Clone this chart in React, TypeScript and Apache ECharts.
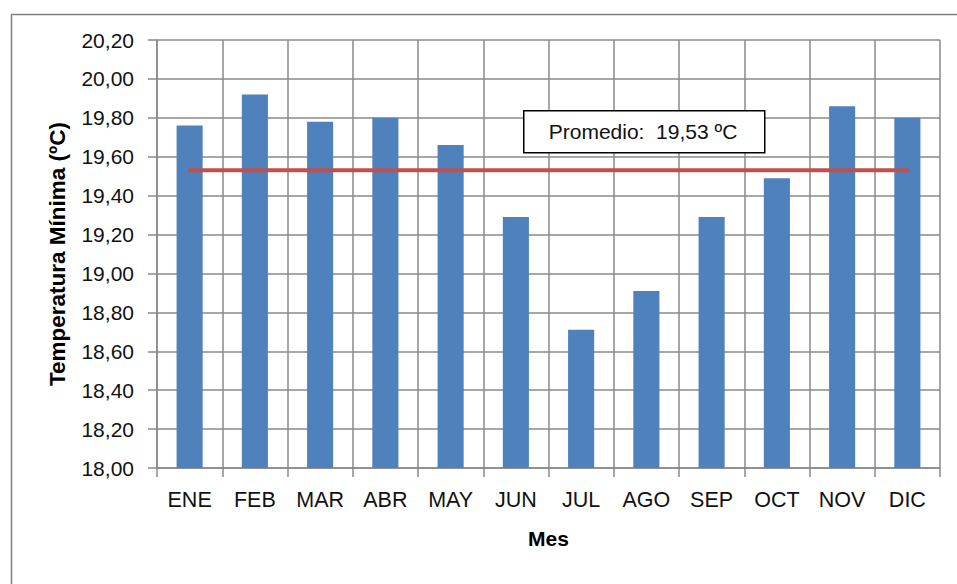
import React, { useEffect, useRef } from "react";
import * as echarts from "echarts";

const months = ["ENE", "FEB", "MAR", "ABR", "MAY", "JUN", "JUL", "AGO", "SEP", "OCT", "NOV", "DIC"];
const tempMin = [19.76, 19.92, 19.78, 19.8, 19.66, 19.29, 18.71, 18.91, 19.29, 19.49, 19.86, 19.8];
const promedio = 19.53;
const yMin = 18.0;
const yMax = 20.2;
const yStep = 0.2;
const yTitle = "Temperatura Mínima (ºC)";
const xTitle = "Mes";
const avgLabel = "Promedio:  19,53 ºC";

const FONT = "'Liberation Sans', Arial, sans-serif";
const GRID = "#8a8a8a";

export default function App() {
  const ref = useRef<HTMLDivElement>(null);
  useEffect(() => {
    if (!ref.current) return;
    const chart = echarts.init(ref.current, null, { renderer: "svg" });
    chart.setOption({
      animation: false,
      backgroundColor: "#ffffff",
      grid: { left: 157, top: 40, right: 17, bottom: 116, containLabel: false },
      xAxis: {
        type: "category",
        data: months,
        boundaryGap: true,
        name: xTitle,
        nameLocation: "middle",
        nameGap: 60,
        nameTextStyle: { fontFamily: FONT, fontSize: 21, fontWeight: "bold", color: "#000" },
        axisLine: { show: true, lineStyle: { color: GRID, width: 1.5 } },
        axisTick: { show: true, length: 9, lineStyle: { color: GRID, width: 1.5 } },
        axisLabel: { fontFamily: FONT, fontSize: 21.5, color: "#111", margin: 21 },
        splitLine: { show: true, lineStyle: { color: GRID, width: 1.5 } },
      },
      yAxis: {
        type: "value",
        min: yMin,
        max: yMax,
        interval: yStep,
        name: yTitle,
        nameLocation: "middle",
        nameGap: 88,
        nameRotate: 90,
        nameTextStyle: { fontFamily: FONT, fontSize: 22.5, fontWeight: "bold", color: "#000" },
        axisLine: { show: true, lineStyle: { color: GRID, width: 1.5 } },
        axisTick: { show: true, length: 9, lineStyle: { color: GRID, width: 1.5 } },
        axisLabel: {
          fontFamily: FONT,
          fontSize: 21,
          color: "#111",
          margin: 23,
          formatter: (v: number) => v.toFixed(2).replace(".", ","),
        },
        splitLine: { show: true, lineStyle: { color: GRID, width: 1.5 } },
      },
      series: [
        {
          type: "bar",
          data: tempMin,
          barWidth: "40%",
          itemStyle: { color: "#4F81BD" },
        },
        {
          type: "line",
          data: months.map(() => promedio),
          symbol: "none",
          lineStyle: { color: "#C0504D", width: 4, cap: "round" },
          z: 5,
        },
      ],
      graphic: [
        {
          type: "rect",
          left: 9,
          top: 12,
          shape: { width: 1000, height: 1000 },
          style: { fill: "none", stroke: "#7f7f7f", lineWidth: 1.5 },
          silent: true,
        },
        {
          type: "rect",
          left: 523,
          top: 110,
          shape: { width: 241, height: 42 },
          style: { fill: "#ffffff", stroke: "#000000", lineWidth: 1.5 },
          z: 100,
        },
        {
          type: "text",
          x: 643,
          y: 131,
          style: {
            text: avgLabel,
            fontFamily: FONT,
            fontSize: 21,
            fill: "#111",
            align: "center",
            verticalAlign: "middle",
          },
          z: 101,
        },
      ],
    });
    return () => chart.dispose();
  }, []);
  return <div ref={ref} style={{ position: "fixed", left: 0, top: 0, width: 957, height: 584 }} />;
}
